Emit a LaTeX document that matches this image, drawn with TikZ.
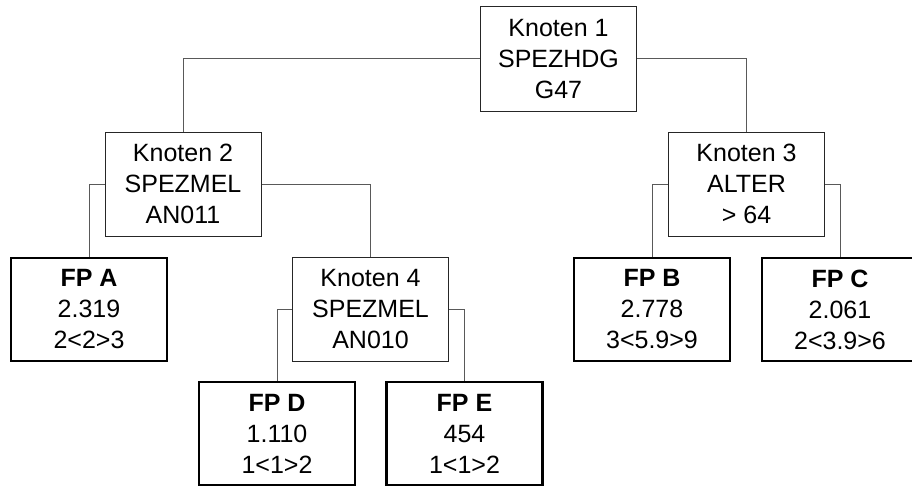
\documentclass[tikz,border=0pt]{standalone}
\usepackage{fontspec}
\setmainfont{Liberation Sans}
\begin{document}
\begin{tikzpicture}[x=1pt,y=-1pt,
  knot/.style={draw=black!85,line width=1pt,fill=white,minimum width=156pt,minimum height=104pt,
    align=center,inner sep=0pt,font=\fontsize{25}{31}\selectfont},
  leaf/.style={draw=black,line width=2.4pt,fill=white,minimum width=156pt,minimum height=103pt,
    align=center,inner sep=0pt,font=\fontsize{25}{31}\selectfont},
  conn/.style={draw=black!65,line width=1pt}]
\useasboundingbox (0,0) rectangle (912,487);
\clip (0,0) rectangle (912,487);
\fill[white] (0,0) rectangle (912,487);
\node[knot] (k1) at (558.5,59) {Knoten 1\\SPEZHDG\\G47};
\node[knot] (k2) at (183,184) {Knoten 2\\SPEZMEL\\AN011};
\node[knot] (k3) at (746.5,184) {Knoten 3\\ALTER\\> 64};
\node[knot] (k4) at (370.5,309) {Knoten 4\\SPEZMEL\\AN010};
\node[leaf] (fa) at (89,309.5) {\textbf{FP A}\\2.319\\2<2>3};
\node[leaf] (fb) at (652,309.5) {\textbf{FP B}\\2.778\\3<5.9>9};
\node[leaf] (fc) at (840,309.5) {\textbf{FP C}\\2.061\\2<3.9>6};
\node[leaf] (fd) at (277,433.5) {\textbf{FP D}\\1.110\\1<1>2};
\node[leaf] (fe) at (464.5,433.5) {\textbf{FP E}\\454\\1<1>2};
\begin{scope}[on background layer/.try]
\end{scope}
\draw[conn] (k1.west) -| (k2.north);
\draw[conn] (k1.east) -| (k3.north);
\draw[conn] (k2.west) -| (fa.north);
\draw[conn] (k2.east) -| (k4.north);
\draw[conn] (k3.west) -| (fb.north);
\draw[conn] (k3.east) -| (fc.north);
\draw[conn] (k4.west) -| (fd.north);
\draw[conn] (k4.east) -| (fe.north);
\end{tikzpicture}
\end{document}
